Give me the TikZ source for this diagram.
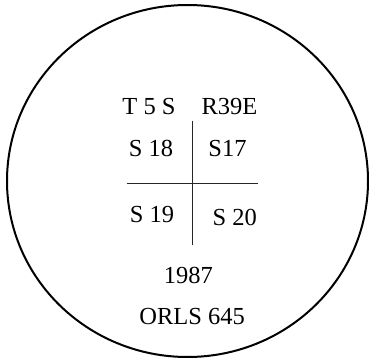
\documentclass[tikz,border=0pt]{standalone}
\usepackage{fontspec}
\setmainfont{Liberation Serif}
\begin{document}
\begin{tikzpicture}[x=1pt,y=-1pt,
  lbl/.style={anchor=base,inner sep=0pt,font=\fontsize{24.5}{28}\selectfont},
  rule/.style={line width=0.9pt,draw=black!85}]
\useasboundingbox (0,0) rectangle (369,358);
\draw[line width=2pt] (187.5,181) ellipse [x radius=180.5, y radius=176];
\node[lbl] (t5s) at (149,114.3) {T 5 S};
\node[lbl] (r39e) at (229.5,114.3) {R39E};
\node[lbl] (s18) at (151,156.5) {S 18};
\node[lbl] (s17) at (227.5,156.5) {S17};
\node[lbl] (s19) at (152,222.7) {S 19};
\node[lbl] (s20) at (234.7,225) {S 20};
\node[lbl] (y1987) at (188.3,283.3) {1987};
\node[lbl] (orls) at (192.2,324) {ORLS 645};
\coordinate (vt) at (192.7,120.7);
\coordinate (vb) at (192.7,245);
\coordinate (hl) at (126.7,183.3);
\coordinate (hr) at (258.3,183.3);
\draw[rule] (vt) -- (vb);
\draw[rule] (hl) -- (hr);
\end{tikzpicture}
\end{document}
